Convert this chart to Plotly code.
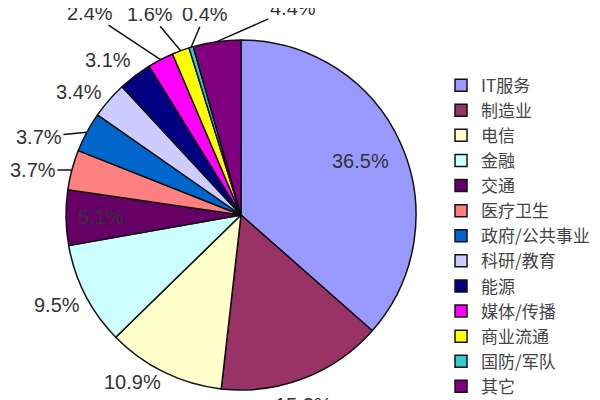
import math
import plotly.graph_objects as go

categories = ["IT服务", "制造业", "电信", "金融", "交通", "医疗卫生", "政府/公共事业",
              "科研/教育", "能源", "媒体/传播", "商业流通", "国防/军队", "其它"]
values = [36.5, 15.3, 10.9, 9.5, 5.1, 3.7, 3.7, 3.4, 3.1, 2.4, 1.6, 0.4, 4.4]
label_texts = ["36.5%", "15.3%", "10.9%", "9.5%", "5.1%", "3.7%", "3.7%",
               "3.4%", "3.1%", "2.4%", "1.6%", "0.4%", "4.4%"]

colors = ["#9999FF", "#993366", "#FFFFCC", "#CCFFFF", "#660066", "#FF8080", "#0066CC",
          "#CCCCFF", "#000080", "#FF00FF", "#FFFF00", "#33CCCC", "#800080"]

# label placement style: (mode, dx, dy) pixel offset from slice edge midpoint
label_style = [
    ("inside", 0.75, 0), ("out", 0, 27), ("out", -32, 10), ("out", -28, 10),
    ("inside", 0.8, 0), ("line", -39, 0), ("line", -48, 5), ("out", -30, -8),
    ("out", -27, -16), ("line", -71, -47), ("line", -31, -37), ("line", 14, -33),
    ("line", 76, -38),
]

W, H = 600, 400
PAGE_OFF = 8                      # default body margin of the html page
CX, CY, R = 241 - PAGE_OFF, 215 - PAGE_OFF, 175
dom_x = [(CX - R) / W, (CX + R) / W]
dom_y = [1 - (CY + R) / H, 1 - (CY - R) / H]

fig = go.Figure(go.Pie(
    labels=categories, values=values, sort=False, direction="clockwise",
    rotation=0, textinfo="none", hoverinfo="label+percent",
    marker=dict(colors=colors, line=dict(color="#111111", width=1.5)),
    domain=dict(x=dom_x, y=dom_y),
))

FONT = dict(size=20, color="#333333", family="Liberation Sans, Arial")
total = sum(values)
cum = 0.0
annotations = []
for v, txt, st in zip(values, label_texts, label_style):
    mid = (cum + v / 2) / total * 2 * math.pi
    cum += v
    s, c = math.sin(mid), math.cos(mid)
    mode = st[0]
    common = dict(xref="paper", yref="paper", text=txt, font=FONT,
                  xanchor="center", yanchor="middle")
    if mode == "inside":
        f = st[1]
        px, py = CX + R * f * s, CY - R * f * c
        annotations.append(dict(x=px / W, y=1 - py / H, showarrow=False, **common))
    else:
        ex, ey = CX + R * s, CY - R * c
        dx, dy = st[1], st[2]
        if mode == "out":
            annotations.append(dict(x=(ex + dx) / W, y=1 - (ey + dy) / H,
                                    showarrow=False, **common))
        else:
            annotations.append(dict(x=ex / W, y=1 - ey / H, showarrow=True, arrowhead=0,
                                    arrowwidth=1.5, arrowcolor="#111111",
                                    ax=dx, ay=dy, standoff=0, **common))

fig.update_layout(
    width=W, height=H, margin=dict(l=0, r=0, t=0, b=0),
    paper_bgcolor="white", plot_bgcolor="white",
    annotations=annotations,
    legend=dict(x=0.7217, y=0.851, xanchor="left", yanchor="top",
                font=dict(size=17, color="#444444",
                          family="Noto Sans CJK SC, Liberation Sans, Arial"),
                bgcolor="rgba(0,0,0,0)"),
    showlegend=True,
)

fig.write_html("out.html")
